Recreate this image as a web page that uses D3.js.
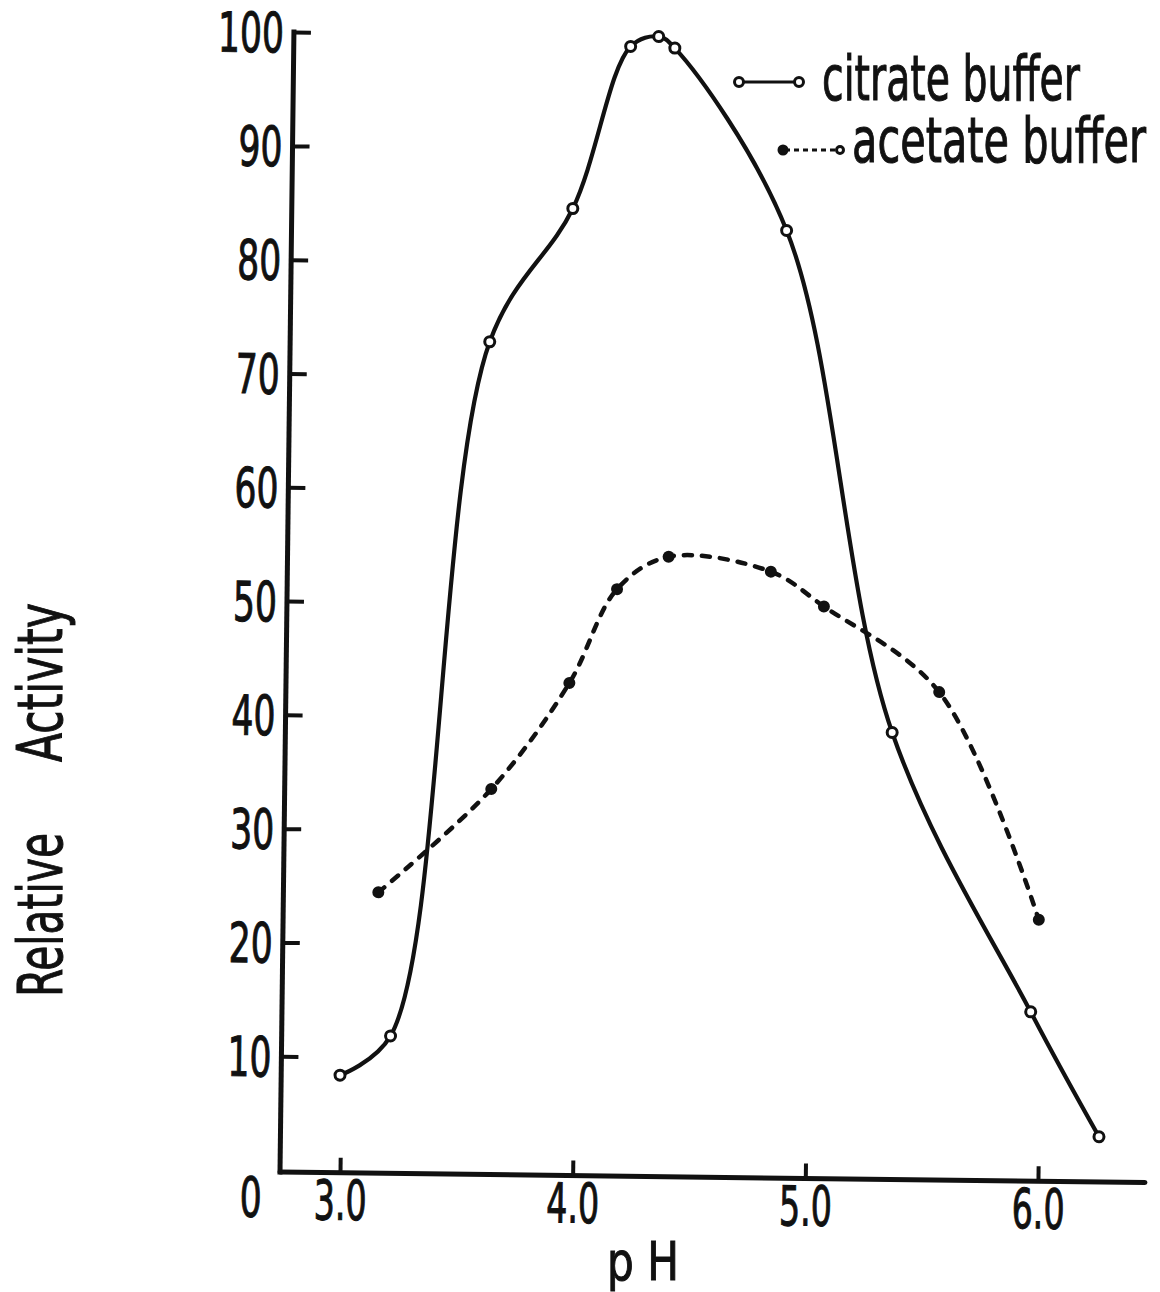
<!DOCTYPE html>
<html>
<head>
<meta charset="utf-8">
<script src="https://cdn.jsdelivr.net/npm/d3@7"></script>
<style>
html, body { margin: 0; padding: 0; background: #fff; }
text { font-family: "DejaVu Sans Condensed", "DejaVu Sans", sans-serif; fill: #111; stroke: #111; stroke-width: 1; }
</style>
</head>
<body>
<svg id="chart" width="1160" height="1292"></svg>
<script>
// values (pH vs relative activity)
var citratePH  = [2.995, 3.21, 3.60, 3.95, 4.19, 4.31, 4.38, 4.87, 5.35, 5.96, 6.26];
var citrateAct = [8.4, 11.9, 73.0, 84.8, 99.1, 100, 99.0, 83.1, 39.1, 14.7, 3.8];
var acetatePH  = [3.15, 3.63, 3.96, 4.16, 4.38, 4.82, 5.05, 5.55, 5.99];
var acetateAct = [24.5, 33.7, 43.1, 51.4, 54.3, 53.1, 50.1, 42.7, 22.8];
var xTicks = [3, 4, 5, 6];
var yTicks = [10, 20, 30, 40, 50, 60, 70, 80, 90, 100];
var seriesNames = ["citrate buffer", "acetate buffer"];

var ink = "#111";
var svg = d3.select("#chart");

// the scan is turned a little clockwise, so the whole plot is too
var g = svg.append("g").attr("transform", "translate(280,1172) rotate(0.7)");

var x = d3.scaleLinear().domain([3, 6]).range([60, 758]);
var y = d3.scaleLinear().domain([0, 100]).range([-2, -1140]);

// rough width of the narrow lettering: digits wide, dots thin
function labelLen(s) {
    var w = 0;
    s.split("").forEach(function(c) { w += (c == ".") ? 9 : 22; });
    return w;
}

// squeeze texts sideways to a wanted width (the lettering is very narrow)
function fitWidth(sel, widthFn) {
    sel.each(function(d) {
        var t = d3.select(this);
        var s = widthFn(d) / this.getComputedTextLength();
        var x0 = +t.attr("x") || 0;
        var tr = t.attr("transform") || "";
        t.attr("x", x0 / s).attr("transform", tr + " scale(" + s + ",1)");
    });
}

// axis lines
g.append("line")
    .attr("x1", 0).attr("y1", 0)
    .attr("x2", 0).attr("y2", y(100))
    .attr("stroke", ink).attr("stroke-width", 5).attr("stroke-linecap", "square");
g.append("line")
    .attr("x1", 0).attr("y1", 0)
    .attr("x2", x(6.46)).attr("y2", 0)
    .attr("stroke", ink).attr("stroke-width", 5).attr("stroke-linecap", "round");

var yAxis = d3.axisLeft(y).tickValues(yTicks)
    .tickSizeInner(-17).tickSizeOuter(0).tickPadding(10)
    .tickFormat(d3.format("d"));
var yg = g.append("g").call(yAxis)
    .attr("font-size", null).attr("font-family", null);
yg.select(".domain").remove();
yg.selectAll(".tick line").attr("stroke", ink).attr("stroke-width", 4);
yg.selectAll(".tick text")
    .attr("font-size", 55)
    .attr("dy", "0.36em")
    .call(fitWidth, function(d) { return labelLen(String(d)); });

var xAxis = d3.axisBottom(x).tickValues(xTicks)
    .tickSizeInner(-15).tickSizeOuter(0).tickPadding(8)
    .tickFormat(d3.format(".1f"));
var xg = g.append("g").call(xAxis)
    .attr("font-size", null).attr("font-family", null);
xg.select(".domain").remove();
xg.selectAll(".tick line").attr("stroke", ink).attr("stroke-width", 4);
xg.selectAll(".tick text")
    .attr("font-size", 55)
    .call(fitWidth, function(d) { return labelLen(d3.format(".1f")(d)); });

// the lone "0" at the corner
g.append("text")
    .attr("x", -29).attr("y", 45)
    .attr("text-anchor", "middle")
    .attr("font-size", 55)
    .text("0")
    .call(fitWidth, function() { return labelLen("0"); });

// curves
var citrate = citratePH.map(function(p, i) { return [p, citrateAct[i]]; });
var acetate = acetatePH.map(function(p, i) { return [p, acetateAct[i]]; });

var citrateLine = d3.line()
    .x(function(d) { return x(d[0]); })
    .y(function(d) { return y(d[1]); })
    .curve(d3.curveCatmullRom.alpha(0.5));
var acetateLine = d3.line()
    .x(function(d) { return x(d[0]); })
    .y(function(d) { return y(d[1]); })
    .curve(d3.curveCatmullRom);

g.append("path").datum(acetate)
    .attr("d", acetateLine)
    .attr("fill", "none").attr("stroke", ink)
    .attr("stroke-width", 4.5)
    .attr("stroke-linecap", "round")
    .attr("stroke-dasharray", "8,10");

g.append("path").datum(citrate)
    .attr("d", citrateLine)
    .attr("fill", "none").attr("stroke", ink)
    .attr("stroke-width", 4.2)
    .attr("stroke-linejoin", "round");

g.selectAll(".acDot").data(acetate).enter().append("circle")
    .attr("class", "acDot")
    .attr("cx", function(d) { return x(d[0]); })
    .attr("cy", function(d) { return y(d[1]); })
    .attr("r", 6).attr("fill", ink);

g.selectAll(".ciDot").data(citrate).enter().append("circle")
    .attr("class", "ciDot")
    .attr("cx", function(d) { return x(d[0]); })
    .attr("cy", function(d) { return y(d[1]); })
    .attr("r", 5).attr("fill", "#fff")
    .attr("stroke", ink).attr("stroke-width", 3);

// axis titles
svg.append("text")
    .attr("transform", "translate(62,997) rotate(-90)")
    .attr("font-size", 62)
    .text("Relative")
    .call(fitWidth, function() { return 164; });
svg.append("text")
    .attr("transform", "translate(62,762) rotate(-90)")
    .attr("font-size", 62)
    .text("Activity")
    .call(fitWidth, function() { return 159; });
svg.append("text")
    .attr("x", 607).attr("y", 1280)
    .attr("font-size", 54)
    .text("p H")
    .call(fitWidth, function() { return 72; });

// legend
var leg = svg.append("g");
leg.append("line")
    .attr("x1", 739).attr("y1", 82).attr("x2", 799).attr("y2", 82)
    .attr("stroke", ink).attr("stroke-width", 3);
[739, 799].forEach(function(cx) {
    leg.append("circle").attr("cx", cx).attr("cy", 82).attr("r", 4.5)
        .attr("fill", "#fff").attr("stroke", ink).attr("stroke-width", 3);
});
leg.append("text")
    .attr("x", 822).attr("y", 100)
    .attr("font-size", 62)
    .text(seriesNames[0])
    .call(fitWidth, function() { return 258; });

leg.append("line")
    .attr("x1", 785).attr("y1", 150).attr("x2", 838).attr("y2", 150)
    .attr("stroke", ink).attr("stroke-width", 3)
    .attr("stroke-dasharray", "5,4");
leg.append("circle").attr("cx", 783).attr("cy", 150).attr("r", 5.5).attr("fill", ink);
leg.append("circle").attr("cx", 840).attr("cy", 150).attr("r", 3.5)
    .attr("fill", "#fff").attr("stroke", ink).attr("stroke-width", 3);
leg.append("text")
    .attr("x", 852).attr("y", 162)
    .attr("font-size", 62)
    .text(seriesNames[1])
    .call(fitWidth, function() { return 294; });
</script>
</body>
</html>
